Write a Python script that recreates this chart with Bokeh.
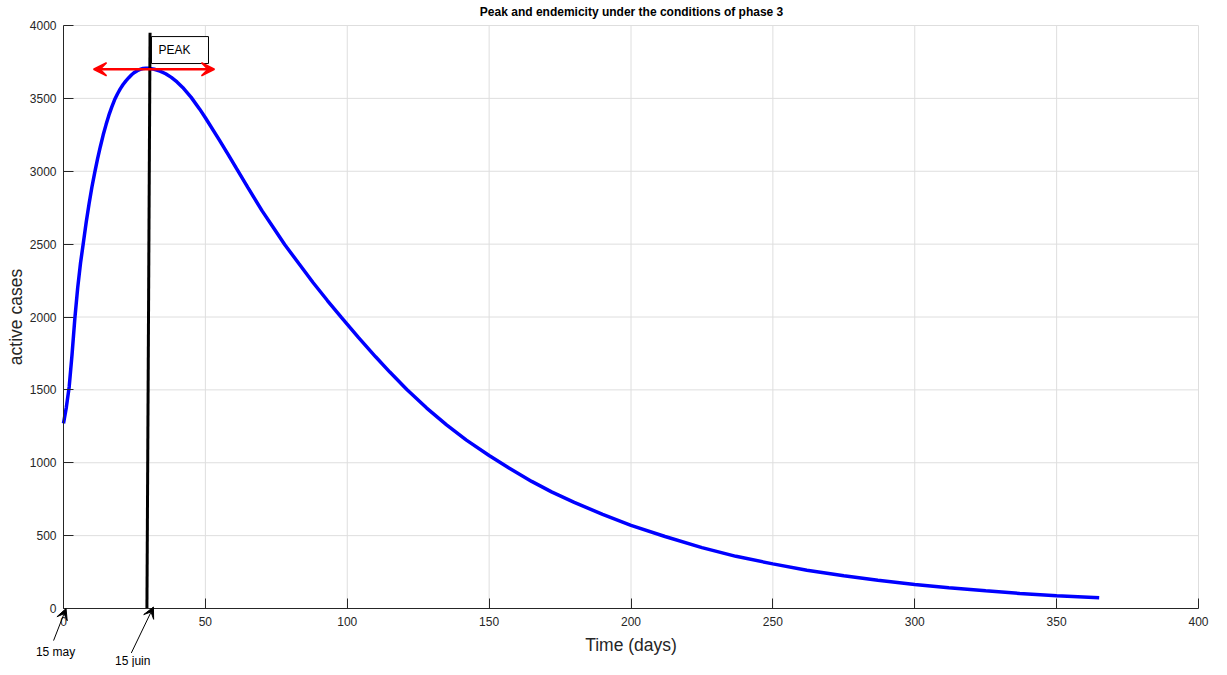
from bokeh.plotting import figure
from bokeh.models import Arrow, VeeHead, Label, Range1d, FixedTicker
from bokeh.embed import file_html
from bokeh.resources import INLINE
from bokeh.core.properties import value

# ---- data ----
days = [0, 1, 2, 3, 4, 5, 6, 7, 8, 9, 10, 11, 12, 13, 14, 15, 16, 17, 18, 19, 20, 21,
        22, 23, 24, 25, 26, 27, 28, 29, 30, 32, 34, 36, 38, 40, 42, 45, 48, 50, 55,
        58, 61, 65, 70, 74, 78, 83, 88, 93, 98, 104, 110, 115, 121, 128, 135, 142, 150,
        157, 165, 172, 180, 190, 200, 212, 225, 237, 250, 262, 275, 287, 300, 312, 325,
        337, 350, 365]
active_cases = [1270, 1380, 1520, 1740, 1990, 2200, 2370, 2510, 2650, 2775, 2890, 2990,
                3085, 3170, 3250, 3320, 3385, 3440, 3490, 3530, 3565, 3595, 3620, 3642,
                3662, 3678, 3690, 3699, 3705, 3707, 3706, 3700, 3687, 3669, 3644, 3613,
                3575, 3507, 3426, 3367, 3212, 3116, 3018, 2888, 2728, 2612, 2496, 2365,
                2235, 2113, 1995, 1858, 1727, 1622, 1503, 1375, 1260, 1155, 1050, 964,
                872, 800, 728, 646, 570, 494, 418, 358, 306, 263, 224, 194, 165, 142,
                121, 103, 88, 73]

x_ticks = [0, 50, 100, 150, 200, 250, 300, 350, 400]
y_ticks = [0, 500, 1000, 1500, 2000, 2500, 3000, 3500, 4000]
x_limits = (0, 400)
y_limits = (0, 4000)

title_text = "Peak and endemicity under the conditions of phase 3"
x_label = "Time (days)"
y_label = "active cases"

peak_day_bottom, peak_day_top = 29.4, 30.5
peak_line_top = 3950
peak_value = 3700
peak_arrow_left, peak_arrow_right = 10.6, 53.2
peak_box = dict(left=31.0, right=51.1, bottom=3739, top=3924)
peak_text = "PEAK"

ann_may = dict(text="15 may", tx=-2.8, ty=-300, xs=-3.5, ys=-220, xe=0.9, ye=0)
ann_juin = dict(text="15 juin", tx=24.4, ty=-360, xs=23.9, ys=-305, xe=31.7, ye=10)

FONT = "Liberation Sans"
DARK = "#262626"
GRID = "#dedede"

# ---- layout: the frame fills the whole figure; axes sit at 0 via fixed_location ----
W, H = 1211, 667
page_x0, page_y0 = 1, 0            # where the figure lands in the screenshot
ax_left_px, ax_right_px = 64, 1199  # page pixels of x = 0 and x = 400
ax_top_px, ax_bot_px = 25, 608      # page pixels of y = 4000 and y = 0
sx = (ax_right_px - ax_left_px) / (x_limits[1] - x_limits[0])
sy = (ax_bot_px - ax_top_px) / (y_limits[1] - y_limits[0])
xr = Range1d(x_limits[0] - (ax_left_px - page_x0) / sx,
             x_limits[0] + (page_x0 + W - ax_left_px) / sx)
yr = Range1d(y_limits[0] - (page_y0 + H - ax_bot_px) / sy,
             y_limits[0] + (ax_bot_px - page_y0) / sy)

p = figure(width=W, height=H, output_backend="svg", toolbar_location=None,
           x_range=xr, y_range=yr, min_border=0)
p.outline_line_color = None
p.background_fill_color = "white"
p.border_fill_color = "white"
p.xgrid.visible = False
p.ygrid.visible = False

# grid lines (light gray, inside the axes box)
gx = [t for t in x_ticks if t != x_limits[0]]
gy = [t for t in y_ticks if t != y_limits[0]]
p.segment(x0=gx, y0=[y_limits[0]] * len(gx), x1=gx, y1=[y_limits[1]] * len(gx),
          line_color=GRID, line_width=1)
p.segment(x0=[x_limits[0]] * len(gy), y0=gy, x1=[x_limits[1]] * len(gy), y1=gy,
          line_color=GRID, line_width=1)

p.xaxis.fixed_location = 0
p.yaxis.fixed_location = 0
p.xaxis.bounds = x_limits
p.yaxis.bounds = y_limits
for ax in (p.xaxis[0], p.yaxis[0]):
    ax.axis_line_color = DARK
    ax.major_tick_line_color = DARK
    ax.major_tick_in = 10
    ax.major_tick_out = 0
    ax.minor_tick_line_color = None
    ax.major_label_text_font = FONT
    ax.major_label_text_font_size = "12px"
    ax.major_label_text_color = DARK
    ax.axis_label_text_font = FONT
    ax.axis_label_text_font_size = "17.5px"
    ax.axis_label_text_font_style = "normal"
    ax.axis_label_text_color = DARK

p.xaxis.ticker = FixedTicker(ticks=x_ticks)
p.yaxis.ticker = FixedTicker(ticks=y_ticks)
p.xaxis.axis_label = x_label
p.yaxis.axis_label = y_label
p.xaxis.major_label_standoff = 8
p.yaxis.major_label_standoff = 7
p.xaxis.axis_label_standoff = 6
p.yaxis.axis_label_standoff = 1

# curve
p.line(days, active_cases, line_color="#0000FF", line_width=3.5)

# red double arrow at peak
p.add_layout(Arrow(x_start=peak_arrow_left, y_start=peak_value,
                   x_end=peak_arrow_right, y_end=peak_value,
                   line_color="red", line_width=2.5,
                   start=VeeHead(size=13, line_color="red", fill_color="red", line_width=1.5),
                   end=VeeHead(size=13, line_color="red", fill_color="red", line_width=1.5)))

# PEAK box
p.quad(left=[peak_box["left"]], right=[peak_box["right"]], bottom=[peak_box["bottom"]],
       top=[peak_box["top"]], fill_color="white", line_color="black", line_width=1)
p.text(x=[33.5], y=[3832], text=[peak_text], text_font=value(FONT),
       text_font_size="12px", text_baseline="middle", text_align="left", text_color="black")

# black peak line
p.segment(x0=[peak_day_bottom], y0=[0], x1=[peak_day_top], y1=[peak_line_top],
          line_color="black", line_width=3)

# bottom annotations
for a in (ann_may, ann_juin):
    p.add_layout(Arrow(x_start=a["xs"], y_start=a["ys"], x_end=a["xe"], y_end=a["ye"],
                       line_color="black", line_width=1,
                       end=VeeHead(size=11, line_color="black", fill_color="black", line_width=1)))
    p.add_layout(Label(x=a["tx"], y=a["ty"], text=a["text"], text_font=FONT,
                       text_font_size="12px", text_align="center", text_baseline="middle",
                       text_color="black"))

# title
p.add_layout(Label(x=200.2, y=4096, text=title_text, text_font=FONT, text_font_size="12px",
                   text_font_style="bold", text_align="center", text_baseline="middle",
                   text_color="black"))

open("out.html", "w").write(file_html(p, INLINE))
